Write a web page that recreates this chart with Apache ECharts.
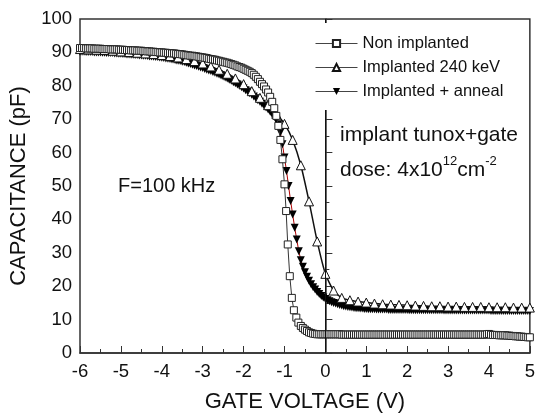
<!DOCTYPE html>
<html>
<head>
<meta charset="utf-8">
<script src="https://cdn.jsdelivr.net/npm/echarts@6/dist/echarts.min.js"></script>
<style>
    html, body { margin: 0; padding: 0; background: #fff; }
    #cv-chart { width: 538px; height: 418px; }
</style>
</head>
<body>
<div id="cv-chart"></div>
<script>
// gate voltage (V), capacitance (pF)
var nonImplanted = [
    [-6.00,91.3],[-5.95,91.3],[-5.90,91.3],[-5.85,91.2],[-5.80,91.2],[-5.75,91.2],[-5.70,91.2],[-5.65,91.1],[-5.60,91.1],[-5.55,91.1],
    [-5.50,91.1],[-5.45,91.0],[-5.40,91.0],[-5.35,91.0],[-5.30,91.0],[-5.25,90.9],[-5.20,90.9],[-5.15,90.9],[-5.10,90.9],[-5.05,90.8],
    [-5.00,90.8],[-4.95,90.8],[-4.90,90.7],[-4.85,90.7],[-4.80,90.7],[-4.75,90.6],[-4.70,90.6],[-4.65,90.6],[-4.60,90.5],[-4.55,90.5],
    [-4.50,90.5],[-4.45,90.4],[-4.40,90.4],[-4.35,90.3],[-4.30,90.3],[-4.25,90.2],[-4.20,90.2],[-4.15,90.1],[-4.10,90.1],[-4.05,90.0],
    [-4.00,90.0],[-3.95,89.9],[-3.90,89.9],[-3.85,89.8],[-3.80,89.8],[-3.75,89.7],[-3.70,89.7],[-3.65,89.6],[-3.60,89.5],[-3.55,89.5],
    [-3.50,89.4],[-3.45,89.3],[-3.40,89.2],[-3.35,89.1],[-3.30,89.0],[-3.25,89.0],[-3.20,88.9],[-3.15,88.8],[-3.10,88.7],[-3.05,88.6],
    [-3.00,88.5],[-2.95,88.4],[-2.90,88.3],[-2.85,88.1],[-2.80,88.0],[-2.75,87.9],[-2.70,87.8],[-2.65,87.6],[-2.60,87.5],[-2.55,87.3],
    [-2.50,87.2],[-2.45,87.0],[-2.40,86.9],[-2.35,86.7],[-2.30,86.5],[-2.25,86.3],[-2.20,86.1],[-2.15,85.8],[-2.10,85.6],[-2.05,85.4],
    [-2.00,85.1],[-1.95,84.8],[-1.90,84.5],[-1.85,84.2],[-1.80,83.8],[-1.75,83.3],[-1.70,82.7],[-1.65,82.0],[-1.60,81.2],[-1.55,80.5],
    [-1.50,79.8],[-1.45,78.9],[-1.40,78.0],[-1.35,76.7],[-1.30,75.2],[-1.25,73.3],[-1.20,71.0],[-1.15,68.0],[-1.10,63.8],[-1.05,58.0],
    [-1.00,50.5],[-0.96,42.5],[-0.92,32.5],[-0.87,23.0],[-0.82,16.5],[-0.77,12.8],[-0.71,10.6],[-0.66,9.1],[-0.60,8.1],[-0.55,7.5],
    [-0.50,7.0],[-0.45,6.6],[-0.40,6.2],[-0.35,6.0],[-0.30,5.8],[-0.25,5.7],[-0.20,5.6],[-0.15,5.6],[-0.10,5.6],[-0.05,5.6],
    [0.00,5.6],[0.05,5.6],[0.10,5.6],[0.15,5.6],[0.20,5.6],[0.25,5.6],[0.30,5.6],[0.35,5.6],[0.40,5.5],[0.45,5.5],
    [0.50,5.5],[0.55,5.5],[0.60,5.5],[0.65,5.5],[0.70,5.5],[0.75,5.5],[0.80,5.5],[0.85,5.5],[0.90,5.5],[0.95,5.5],
    [1.00,5.5],[1.05,5.5],[1.10,5.5],[1.15,5.5],[1.20,5.5],[1.25,5.5],[1.30,5.5],[1.35,5.5],[1.40,5.5],[1.45,5.5],
    [1.50,5.5],[1.55,5.5],[1.60,5.5],[1.65,5.5],[1.70,5.5],[1.75,5.5],[1.80,5.5],[1.85,5.5],[1.90,5.5],[1.95,5.5],
    [2.00,5.5],[2.05,5.5],[2.10,5.5],[2.15,5.5],[2.20,5.5],[2.25,5.5],[2.30,5.5],[2.35,5.5],[2.40,5.5],[2.45,5.5],
    [2.50,5.5],[2.55,5.5],[2.60,5.5],[2.65,5.5],[2.70,5.5],[2.75,5.5],[2.80,5.5],[2.85,5.5],[2.90,5.5],[2.95,5.5],
    [3.00,5.5],[3.05,5.5],[3.10,5.5],[3.15,5.5],[3.20,5.5],[3.25,5.5],[3.30,5.5],[3.35,5.5],[3.40,5.5],[3.45,5.5],
    [3.50,5.5],[3.55,5.5],[3.60,5.5],[3.65,5.5],[3.70,5.5],[3.75,5.5],[3.80,5.5],[3.85,5.5],[3.90,5.5],[3.95,5.6],
    [4.00,5.7],[4.05,5.5],[4.10,5.4],[4.15,5.4],[4.20,5.4],[4.25,5.3],[4.30,5.3],[4.35,5.3],[4.40,5.3],[4.45,5.2],
    [4.50,5.2],[4.55,5.1],[4.60,5.1],[4.65,5.0],[4.70,5.0],[4.75,4.9],[4.80,4.9],[4.85,4.8],[4.90,4.8],[4.95,4.7],
    [5.00,4.7]
];

var implanted240 = [
    [-6.0,91.0],[-5.8,90.9],[-5.6,90.8],[-5.4,90.7],[-5.2,90.5],[-5.0,90.3],[-4.8,90.1],[-4.6,89.9],[-4.4,89.7],[-4.2,89.5],
    [-4.0,89.2],[-3.8,88.9],[-3.6,88.5],[-3.4,88.0],[-3.2,87.4],[-3.0,86.7],[-2.8,85.8],[-2.6,84.8],[-2.4,83.6],[-2.2,82.2],
    [-2.0,80.5],[-1.8,78.4],[-1.6,76.4],[-1.4,74.2],[-1.2,71.6],[-1.0,68.6],[-0.8,63.8],[-0.6,56.2],[-0.4,45.4],[-0.2,33.4],
    [0.0,23.7],[0.2,18.7],[0.4,16.5],[0.6,15.8],[0.8,15.4],[1.0,15.1],[1.2,14.8],[1.4,14.6],[1.6,14.5],[1.8,14.4],
    [2.0,14.3],[2.2,14.2],[2.4,14.1],[2.6,14.0],[2.8,14.0],[3.0,13.9],[3.2,13.9],[3.4,13.8],[3.6,13.8],[3.8,13.8],
    [4.0,13.7],[4.2,13.7],[4.4,13.7],[4.6,13.6],[4.8,13.6],[5.0,13.6]
];

var implantedAnneal = [
    [-6.00,90.2],[-5.95,90.2],[-5.90,90.2],[-5.85,90.1],[-5.80,90.1],[-5.75,90.1],[-5.70,90.1],[-5.65,90.0],[-5.60,90.0],[-5.55,90.0],
    [-5.50,90.0],[-5.45,89.9],[-5.40,89.9],[-5.35,89.8],[-5.30,89.8],[-5.25,89.8],[-5.20,89.8],[-5.15,89.7],[-5.10,89.7],[-5.05,89.6],
    [-5.00,89.6],[-4.95,89.5],[-4.90,89.5],[-4.85,89.4],[-4.80,89.4],[-4.75,89.3],[-4.70,89.3],[-4.65,89.2],[-4.60,89.2],[-4.55,89.1],
    [-4.50,89.1],[-4.45,89.0],[-4.40,89.0],[-4.35,88.9],[-4.30,88.8],[-4.25,88.8],[-4.20,88.7],[-4.15,88.6],[-4.10,88.6],[-4.05,88.5],
    [-4.00,88.4],[-3.95,88.3],[-3.90,88.2],[-3.85,88.1],[-3.80,88.0],[-3.75,87.9],[-3.70,87.8],[-3.65,87.6],[-3.60,87.5],[-3.55,87.4],
    [-3.50,87.2],[-3.45,87.1],[-3.40,86.9],[-3.35,86.7],[-3.30,86.5],[-3.25,86.3],[-3.20,86.1],[-3.15,85.9],[-3.10,85.7],[-3.05,85.5],
    [-3.00,85.3],[-2.95,85.0],[-2.90,84.8],[-2.85,84.6],[-2.80,84.4],[-2.75,84.1],[-2.70,83.9],[-2.65,83.6],[-2.60,83.4],[-2.55,83.1],
    [-2.50,82.8],[-2.45,82.5],[-2.40,82.2],[-2.35,81.8],[-2.30,81.5],[-2.25,81.1],[-2.20,80.8],[-2.15,80.4],[-2.10,80.0],[-2.05,79.6],
    [-2.00,79.2],[-1.95,78.7],[-1.90,78.3],[-1.85,77.8],[-1.80,77.3],[-1.75,76.8],[-1.70,76.3],[-1.65,75.7],[-1.60,75.2],[-1.55,74.6],
    [-1.50,74.1],[-1.45,73.5],[-1.40,72.9],[-1.35,72.2],[-1.30,71.5],[-1.25,70.7],[-1.20,69.8],[-1.15,68.5],[-1.10,66.0],[-1.05,62.5],
    [-1.00,58.5],[-0.95,54.5],[-0.90,50.0],[-0.85,45.5],[-0.80,41.5],[-0.75,37.5],[-0.70,34.0],[-0.65,30.5],[-0.60,27.8],[-0.55,25.8],
    [-0.50,24.2],[-0.45,22.8],[-0.40,21.6],[-0.35,20.6],[-0.30,19.7],[-0.25,19.0],[-0.20,18.3],[-0.15,17.7],[-0.10,17.1],[-0.05,16.6],
    [0.00,16.2],[0.05,15.8],[0.10,15.5],[0.15,15.2],[0.20,15.0],[0.25,14.8],[0.30,14.6],[0.35,14.4],[0.40,14.2],[0.45,14.0],
    [0.50,13.9],[0.55,13.8],[0.60,13.7],[0.65,13.6],[0.70,13.5],[0.75,13.4],[0.80,13.4],[0.85,13.3],[0.90,13.3],[0.95,13.2],
    [1.00,13.2],[1.05,13.1],[1.10,13.1],[1.15,13.1],[1.20,13.1],[1.25,13.0],[1.30,13.0],[1.35,13.0],[1.40,13.0],[1.45,13.0],
    [1.50,13.0],[1.55,12.9],[1.60,12.9],[1.65,12.9],[1.70,12.9],[1.75,12.9],[1.80,12.9],[1.85,12.9],[1.90,12.9],[1.95,12.9],
    [2.00,12.9],[2.05,12.8],[2.10,12.8],[2.15,12.8],[2.20,12.8],[2.25,12.8],[2.30,12.8],[2.35,12.8],[2.40,12.8],[2.45,12.8],
    [2.50,12.8],[2.55,12.8],[2.60,12.8],[2.65,12.8],[2.70,12.8],[2.75,12.8],[2.80,12.8],[2.85,12.8],[2.90,12.7],[2.95,12.7],
    [3.00,12.7],[3.05,12.7],[3.10,12.7],[3.15,12.7],[3.20,12.7],[3.25,12.7],[3.30,12.7],[3.35,12.7],[3.40,12.7],[3.45,12.7],
    [3.50,12.7],[3.55,12.7],[3.60,12.7],[3.65,12.7],[3.70,12.7],[3.75,12.7],[3.80,12.7],[3.85,12.7],[3.90,12.7],[3.95,12.7],
    [4.00,12.7],[4.05,12.6],[4.10,12.6],[4.15,12.6],[4.20,12.6],[4.25,12.6],[4.30,12.6],[4.35,12.6],[4.40,12.6],[4.45,12.6],
    [4.50,12.6],[4.55,12.6],[4.60,12.6],[4.65,12.6],[4.70,12.6],[4.75,12.6],[4.80,12.6],[4.85,12.6],[4.90,12.6],[4.95,12.6],
    [5.00,12.6]
];

var seriesNames = ['Non implanted', 'Implanted 240 keV', 'Implanted + anneal'];

var myChart = echarts.init(document.getElementById('cv-chart'));

var axisColor = '#333';
var font = 'Liberation Sans, Arial, sans-serif';

var option = {
    animation: false,
    textStyle: { fontFamily: font },
    grid: {
        left: 80,
        right: 3,
        top: 19,
        bottom: 62,
        show: true,
        borderColor: axisColor,
        borderWidth: 1.5
    },
    legend: {
        orient: 'vertical',
        left: 309,
        top: 23,
        z: 20,
        padding: [12, 8, 10, 6],
        backgroundColor: '#fff',
        itemWidth: 42,
        itemHeight: 9,
        itemGap: 7,
        textStyle: { fontSize: 16.5, color: '#111', lineHeight: 16 },
        data: [
            { name: seriesNames[0], lineStyle: { color: '#444', width: 1 } },
            { name: seriesNames[1], lineStyle: { color: '#444', width: 1 } },
            { name: seriesNames[2], lineStyle: { color: '#444', width: 1 } }
        ]
    },
    xAxis: {
        type: 'value',
        min: -6,
        max: 5,
        interval: 1,
        name: 'GATE VOLTAGE (V)',
        nameLocation: 'middle',
        nameGap: 38,
        nameTextStyle: { fontSize: 22, color: '#111' },
        axisLine: { lineStyle: { color: axisColor, width: 1.5 } },
        axisTick: { inside: true, length: 7, lineStyle: { color: axisColor, width: 1 } },
        minorTick: { show: true, splitNumber: 2, length: 4, lineStyle: { color: axisColor, width: 1 } },
        splitLine: { show: false },
        axisLabel: { fontSize: 18.5, color: '#111', margin: 9 }
    },
    yAxis: {
        type: 'value',
        min: 0,
        max: 100,
        interval: 10,
        name: 'CAPACITANCE (pF)',
        nameLocation: 'middle',
        nameGap: 50,
        nameTextStyle: { fontSize: 22, color: '#111' },
        axisLine: { lineStyle: { color: axisColor, width: 1.5 } },
        axisTick: { inside: true, length: 7, lineStyle: { color: axisColor, width: 1 } },
        minorTick: { show: true, splitNumber: 2, length: 4, lineStyle: { color: axisColor, width: 1 } },
        splitLine: { show: false },
        axisLabel: { fontSize: 18.5, color: '#111', margin: 8 }
    },
    graphic: [
        {
            type: 'text',
            left: 118,
            top: 176,
            style: { text: 'F=100 kHz', font: '20px ' + font, fill: '#111' }
        },
        {
            type: 'text',
            left: 340,
            top: 125,
            style: { text: 'implant tunox+gate', font: '21px ' + font, fill: '#111' }
        },
        {
            type: 'text',
            left: 340,
            top: 155,
            style: {
                text: '{n|dose: 4x10}{s|12}{n|cm}{s|-2}',
                fill: '#111',
                rich: {
                    n: { fontSize: 21, fontFamily: font, lineHeight: 26, verticalAlign: 'bottom' },
                    s: { fontSize: 13, fontFamily: font, lineHeight: 13, verticalAlign: 'top' }
                }
            }
        }
    ],
    series: [
        {
            name: seriesNames[2],
            type: 'line',
            data: implantedAnneal,
            symbol: 'triangle',
            symbolRotate: 180,
            symbolSize: 8,
            itemStyle: { color: '#000' },
            lineStyle: { color: '#b00000', width: 1 },
            z: 2,
            // vertical line at 0 V
            markLine: {
                silent: true,
                symbol: 'none',
                label: { show: false },
                lineStyle: { color: '#111', width: 1, type: 'solid' },
                data: [{ xAxis: 0 }]
            }
        },
        {
            name: seriesNames[1],
            type: 'line',
            data: implanted240,
            smooth: 0.2,
            symbol: 'triangle',
            symbolSize: 9,
            itemStyle: { color: '#fff', borderColor: '#111', borderWidth: 1 },
            lineStyle: { color: '#111', width: 1.5 },
            z: 3
        },
        {
            name: seriesNames[0],
            type: 'line',
            data: nonImplanted,
            symbol: 'rect',
            symbolSize: 7,
            itemStyle: { color: '#fff', borderColor: '#222', borderWidth: 1 },
            lineStyle: { color: '#333', width: 1 },
            z: 4
        }
    ]
};

myChart.setOption(option);
window.addEventListener('resize', function () {
    myChart.resize();
});
</script>
</body>
</html>
